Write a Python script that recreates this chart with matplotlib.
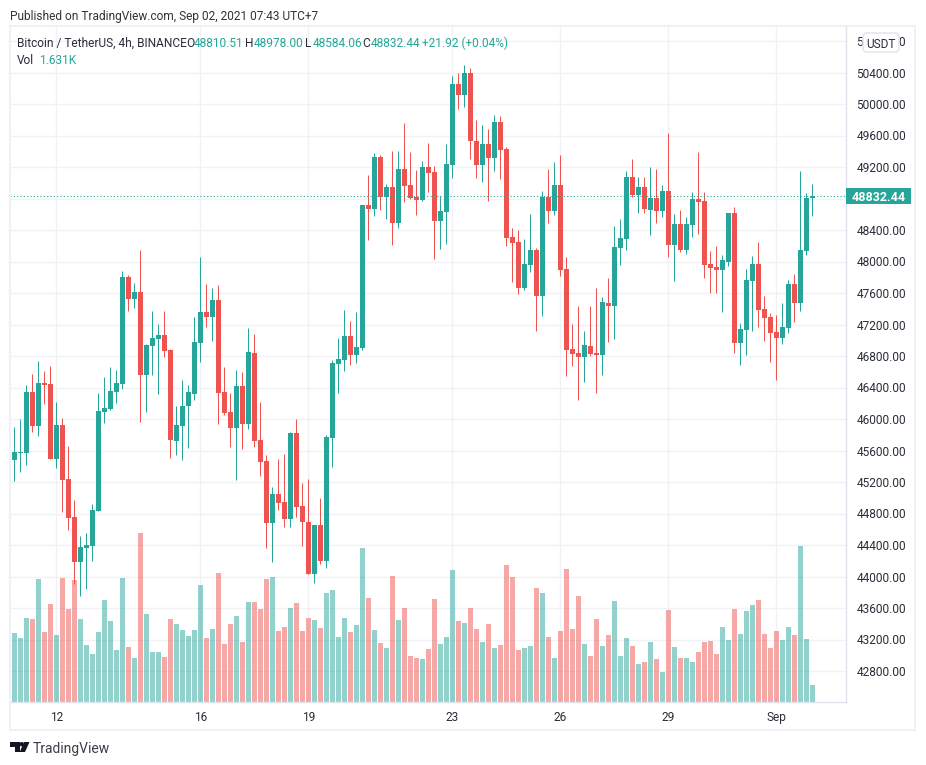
import numpy as np
import matplotlib
matplotlib.use("Agg")
import matplotlib.pyplot as plt
from matplotlib.patches import Rectangle, Polygon, Circle, FancyBboxPatch
from matplotlib.transforms import blended_transform_factory

W, H = 926, 765
FONT = "Roboto"
plt.rcParams["font.family"] = [FONT, "DejaVu Sans"]

# 4h candles, Bitcoin / TetherUS, first entry is the candle cut off by the left pane edge
opens = [45149,
 45479,45568,45568,46343,45911,46457,46444,45492,45924,45238,
 44755,44184,44362,44387,44832,46089,46127,46343,46444,47803,
 47524,47613,46559,46927,47016,47067,46876,45721,45911,46165,
 46317,46965,47359,47295,47511,46343,46089,45886,46419,45936,
 46838,45733,45467,44679,45047,44946,44730,45822,44895,44692,
 44031,44654,44197,45758,46699,46749,47054,46813,46902,48718,
 48667,49327,48819,48946,48489,49175,48972,48819,48781,49200,
 49137,48514,48629,49226,50254,50115,50394,49530,49226,49492,
 49314,49772,49429,48311,48248,47664,47956,48146,47562,48819,
 48641,48972,47905,46889,46838,46787,46927,46838,46813,47473,
 47435,48172,48286,49073,48845,48946,48654,48806,48641,48895,
 48210,48476,48146,48464,48794,48768,47968,47930,47892,47994,
 48616,46965,47130,47752,47968,47397,47295,47105,47029,47156,
 47714,47473,48133,48810.51]
highs = [45492,
 45898,46000,46432,46571,46736,46609,46673,46216,46013,45657,
 44971,44514,44552,44920,46330,46533,46660,46622,47879,47829,
 47727,48146,46952,47371,47206,47371,46889,46165,46495,46432,
 47295,48057,47714,47663,47702,46660,46330,46622,46597,47155,
 47079,46216,45543,45136,45492,45555,45835,46000,45187,45238,
 44654,44997,45797,46749,47029,47384,47245,47359,48718,49099,
 49378,49353,48984,49403,49403,49759,49391,49162,49276,49505,
 49213,48832,49492,50356,50394,50496,50457,49797,49734,49683,
 49861,49848,49454,48426,48400,48286,48603,48172,48895,49175,
 49264,49353,48057,47206,47435,47117,47435,47664,47549,47791,
 48451,48540,49149,49302,49073,49073,49200,49175,48972,49632,
 48603,48654,48565,48883,49391,48883,48133,48197,48083,48616,
 48692,47219,47905,48070,48248,47562,47346,47321,47473,47765,
 47841,49149,48870,48978]
lows = [45149,
 45217,45327,45416,45835,45784,46190,45492,45378,44819,44590,
 43905,43752,43841,44197,44832,45949,46114,46203,46381,47371,
 47409,45962,46089,46559,46317,46787,45505,45543,45479,45632,
 46241,46724,47168,46990,45936,46051,45644,45225,45619,45873,
 45644,45276,44362,44184,44844,44628,44628,44755,44387,44031,
 43917,44158,44108,45390,46330,46610,46686,46711,46876,48273,
 48578,48654,48540,48210,48426,48756,48794,48591,48768,48883,
 48032,48159,48222,49061,49937,49962,49302,49061,49010,48768,
 49149,49048,48197,47740,47587,47638,47867,47118,47308,48489,
 48591,47816,46546,46673,46241,46470,46800,46330,46559,46978,
 47016,47956,48146,48819,48616,48616,48337,48489,48565,48057,
 47752,48121,48095,48311,48349,47791,47600,47600,47359,47943,
 46838,46686,46813,47117,47168,46990,46724,46495,46952,47092,
 47232,47371,48083,48584.06]
closes = [45492,
 45581,45581,46343,45911,46457,46432,45492,45924,45225,44743,
 44184,44374,44400,44844,46101,46140,46355,46457,47803,47524,
 47613,46559,46940,47028,47067,46863,45733,45924,46165,46343,
 46978,47359,47295,47511,46330,46076,45886,46419,45936,46851,
 45721,45454,44679,45047,44933,44730,45822,44882,44692,44031,
 44654,44197,45771,46711,46762,47054,46813,46914,48718,48667,
 49327,48819,48946,48489,49175,48959,48807,48781,49200,49124,
 48514,48641,49238,50254,50115,50394,49530,49226,49492,49314,
 49772,49416,48299,48235,47664,47968,48146,47562,48819,48641,
 48972,47892,46876,46825,46787,46940,46825,46813,47486,47435,
 48184,48299,49073,48845,48946,48667,48806,48641,48895,48210,
 48476,48146,48476,48794,48756,47956,47918,47892,48019,48616,
 46965,47143,47765,47968,47384,47283,47092,47029,47168,47714,
 47473,48146,48806,48832.44]
# volume in thousands
volumes = [7.94,
 6.52,6.05,7.94,7.84,11.61,6.62,9.25,6.34,11.70,8.78,
 11.51,7.84,5.40,4.55,6.62,9.63,7.65,4.93,11.70,5.21,
 4.17,15.94,8.31,4.74,4.74,4.27,7.84,7.37,6.81,6.24,
 6.81,11.04,6.05,6.90,12.17,5.49,7.37,8.12,5.68,9.44,
 9.44,8.78,11.61,11.80,6.71,7.09,8.88,9.35,6.71,7.94,
 7.75,7.00,10.29,10.57,6.15,7.94,6.62,7.28,14.52,9.82,
 6.81,5.58,5.11,11.89,7.75,8.88,4.36,4.17,4.08,5.02,
 9.72,5.49,6.15,12.45,7.65,7.47,8.88,6.90,5.68,7.37,
 5.11,5.40,12.92,11.80,4.93,5.11,5.30,10.76,10.29,6.15,
 4.17,6.71,12.55,6.90,10.01,5.49,4.36,7.84,5.30,6.34,
 9.54,4.36,6.05,5.30,3.61,3.80,5.68,4.08,2.85,8.69,
 5.21,4.17,4.17,3.80,4.74,5.68,5.77,4.55,7.09,5.87,
 8.78,6.43,8.60,9.16,9.63,6.43,5.11,6.71,5.87,7.09,
 6.34,14.71,5.96,1.63]
date_ticks = [8, 32, 50, 74, 92, 110, 128]
date_labels = ["12", "16", "19", "23", "26", "29", "Sep"]
price_ticks = list(range(42800, 51200, 400))
legend_name = "Bitcoin / TetherUS, 4h, BINANCE"
legend_ohlc = [("O", "48810.51"), ("H", "48978.00"), ("L", "48584.06"), ("C", "48832.44")]
legend_change = "+21.92 (+0.04%)"
legend_vol = "1.631K"

UP, DOWN = "#26a69a", "#ef5350"
GRID = "#f0f2f5"
LINE = "#e0e3eb"
TXT = "#2a2e39"
FS = 8.6

o, h, l, c = map(np.array, (opens, highs, lows, closes))
v = np.array(volumes)
x = np.arange(len(o))
up = c >= o
col = np.where(up, UP, DOWN)

fig = plt.figure(figsize=(W / 100, H / 100), dpi=100, facecolor="white")

# pane: x pixels 10..846, y pixels 26..702
L, R, T, B = 10, 846, 26, 702
rect = [L / W, 1 - B / H, (R - L) / W, (B - T) / H]
vax = fig.add_axes(rect, zorder=1)
ax = fig.add_axes(rect, zorder=2, facecolor="none")

xlim = ((L - 8.5) / 6, (R - 8.5) / 6)   # candle 0 centred at x pixel 8.5
ylim = (50400 - (B - 72.5) * 400 / 31.5, 50400 + (72.5 - T) * 400 / 31.5)
ax.set_xlim(*xlim)
ax.set_ylim(*ylim)
vax.set_xlim(*xlim)
vax.set_ylim(0, (B - T) * 1.631 / 17.33)

vax.set_facecolor("white")
vax.set_xticks(date_ticks)
vax.set_yticks([])
vax.grid(axis="x", color=GRID, lw=1, zorder=0)
for p in price_ticks:
    vax.axhline((p - ylim[0]) / (ylim[1] - ylim[0]) * vax.get_ylim()[1], color=GRID, lw=1, zorder=0)
vax.tick_params(length=0, labelbottom=False)
for s in vax.spines.values():
    s.set_visible(False)
vax.bar(x, v, width=5 / 6, color=col, alpha=0.5, linewidth=0, zorder=2)

ax.vlines(x, l, h, colors=col, lw=0.72, zorder=3)
ax.bar(x, np.abs(c - o), bottom=np.minimum(o, c), width=5 / 6, color=col, linewidth=0, zorder=4)
ax.axhline(closes[-1], color=UP, lw=0.8, ls=(0, (1, 2)), zorder=5)

ax.set_xticks(date_ticks, date_labels)
ax.set_yticks(price_ticks, [f"{p:.2f}" for p in price_ticks])
ax.yaxis.tick_right()
ax.tick_params(axis="both", length=0, labelsize=FS, labelcolor=TXT)
ax.tick_params(axis="y", pad=7.5)
ax.tick_params(axis="x", pad=6.5)
for s in ax.spines.values():
    s.set_visible(False)
for spine in ("bottom", "right"):
    ax.spines[spine].set_visible(True)
    ax.spines[spine].set_color(LINE)
    ax.spines[spine].set_linewidth(1)

# last price tag
tr = blended_transform_factory(ax.transAxes, ax.transData)
pw = (R - L)
ax.add_patch(Rectangle((1, closes[-1] - 8.2 * 400 / 31.5), 65 / pw, 16.4 * 400 / 31.5, transform=tr,
                       facecolor=UP, edgecolor="none", clip_on=False, zorder=6))
ax.text(1 + 32.5 / pw, closes[-1], f"{closes[-1]:.2f}", transform=tr, ha="center", va="center_baseline",
        color="white", fontsize=9, fontweight="bold", zorder=7, clip_on=False)

# overlay in pixel coordinates for frame and headers
ov = fig.add_axes([0, 0, 1, 1], zorder=10, facecolor="none")
ov.set_xlim(0, W)
ov.set_ylim(H, 0)
ov.axis("off")
ov.add_patch(Rectangle((9.5, 26), 905.5, 703.5, fill=False, edgecolor="#eff1f6", lw=1.5))
ov.add_patch(FancyBboxPatch((865, 35), 32, 15, boxstyle="round,pad=2,rounding_size=4",
                            facecolor="white", edgecolor=LINE, lw=1))
ov.text(881, 42.5, "USDT", ha="center", va="center_baseline", fontsize=FS, color=TXT)

ov.text(10, 15, "Published on TradingView.com, Sep 02, 2021 07:43 UTC+7", fontsize=FS, color="#333333",
        va="center_baseline")
ov.text(17, 42, legend_name, fontsize=FS, color=TXT, va="center_baseline")
ohlc_x = [186, 245.5, 305, 362.5]
for xp, (k, val) in zip(ohlc_x, legend_ohlc):
    ov.text(xp, 42, k, fontsize=FS, color=TXT, va="center_baseline")
    ov.text(xp + 8.2, 42, val, fontsize=FS, color=UP, va="center_baseline")
ov.text(421.5, 42, legend_change, fontsize=FS, color=UP, va="center_baseline")
ov.text(17, 59, "Vol", fontsize=FS, color=TXT, va="center_baseline")
ov.text(39, 59, legend_vol, fontsize=FS, color=UP, va="center_baseline")

# logo
ink = "#131722"
ov.add_patch(Polygon([(10, 742), (19.5, 742), (19.5, 752), (15, 752), (15, 746.5), (10, 746.5)], facecolor=ink))
ov.add_patch(Circle((21.7, 744.2), 2.2, facecolor=ink))
ov.add_patch(Polygon([(24, 742), (29.5, 742), (25, 752), (19.7, 752)], facecolor=ink))
ov.text(33, 747, "TradingView", fontsize=10, color="#3a3e49", va="center_baseline")

fig.savefig("out.png", dpi=100)
